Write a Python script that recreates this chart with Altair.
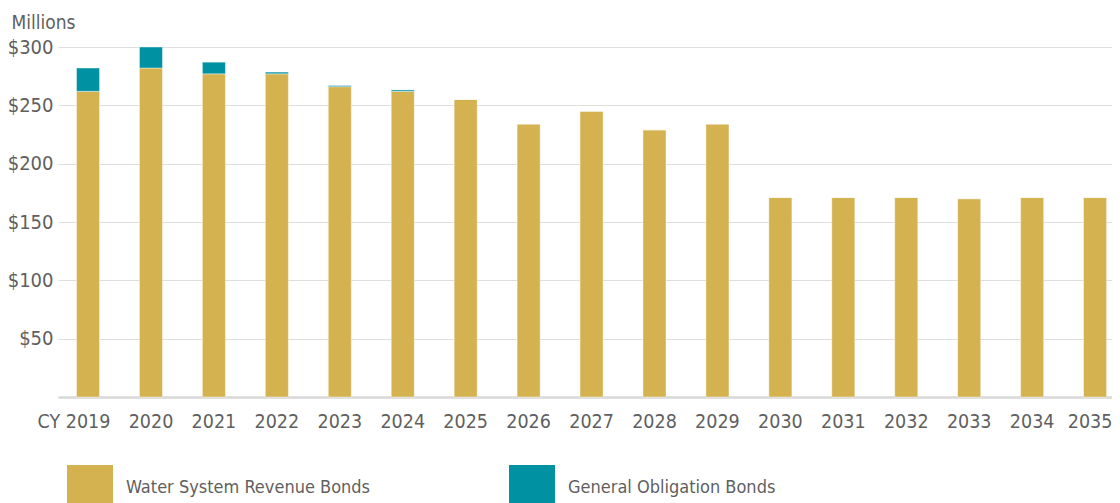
import altair as alt
import pandas as pd

years = [str(y) for y in range(2019, 2036)]
water_revenue = [262, 282, 277, 277, 266, 262, 255, 234, 245, 229, 234, 171, 171, 171, 170, 171, 171]
general_obligation = [20, 18, 10, 1.5, 1, 1.2, 0, 0, 0, 0, 0, 0, 0, 0, 0, 0, 0]
series = ["Water System Revenue Bonds", "General Obligation Bonds"]
colors = ["#D4B24F", "#0091A2"]
y_ticks = [0, 50, 100, 150, 200, 250, 300]

rows = []
for i, yr in enumerate(years):
    rows.append({"year": yr, "series": series[0], "value": water_revenue[i], "ord": 0})
    rows.append({"year": yr, "series": series[1], "value": general_obligation[i], "ord": 1})
df = pd.DataFrame(rows)

FONT = "DejaVu Sans Condensed, sans-serif"
TXT = "#5f5f5f"

chart = alt.Chart(df).mark_bar(stroke="#ffffff", strokeWidth=0.6, strokeOpacity=0.7).encode(
    x=alt.X("year:N", sort=years, title=None,
            scale=alt.Scale(paddingInner=0.634, paddingOuter=0.19, align=0.774),
            axis=alt.Axis(
                labelAngle=0, ticks=False, grid=False,
                domainColor="#d8d8d8", domainWidth=2.5,
                labelFont=FONT, labelFontSize=19.5, labelColor=TXT, labelPadding=15,
                labelExpr="datum.value == '2019' ? 'CY 2019' : datum.label",
                labelOffset={"condition": [
                    {"test": "datum.value == '2019'", "value": -14},
                    {"test": "datum.value == '2035'", "value": -5}], "value": 0},
            )),
    y=alt.Y("value:Q", stack="zero", title="Millions",
            scale=alt.Scale(domain=[0, 300], nice=False),
            axis=alt.Axis(
                values=y_ticks, ticks=False, domain=False,
                gridColor="#dedede", gridWidth=1,
                labelFont=FONT, labelFontSize=20, labelColor=TXT, labelPadding=5,
                labelExpr="datum.value == 0 ? '' : '$' + datum.value",
                titleAngle=0, titleAlign="left", titleBaseline="alphabetic",
                titleX=-47, titleY=-19, titleFont=FONT, titleFontSize=19,
                titleFontWeight="normal", titleColor=TXT,
            )),
    color=alt.Color("series:N", scale=alt.Scale(domain=series, range=colors),
                    legend=alt.Legend(
                        title=None, orient="none", direction="horizontal",
                        legendX=9, legendY=418, padding=0,
                        symbolType="square", symbolSize=2116, symbolStrokeWidth=0,
                        symbolOpacity=1, labelOffset=13, columnPadding=138,
                        labelFont=FONT, labelFontSize=18, labelColor=TXT,
                        labelLimit=400,
                    )),
    order=alt.Order("ord:Q", sort="ascending"),
).properties(
    width=1054, height=350,
    autosize=alt.AutoSizeParams(type="none"),
    padding={"left": 50, "top": 39, "right": 0, "bottom": 106},
).configure_view(stroke=None)

chart.save("out.html", embed_options={"renderer": "svg", "actions": False})
